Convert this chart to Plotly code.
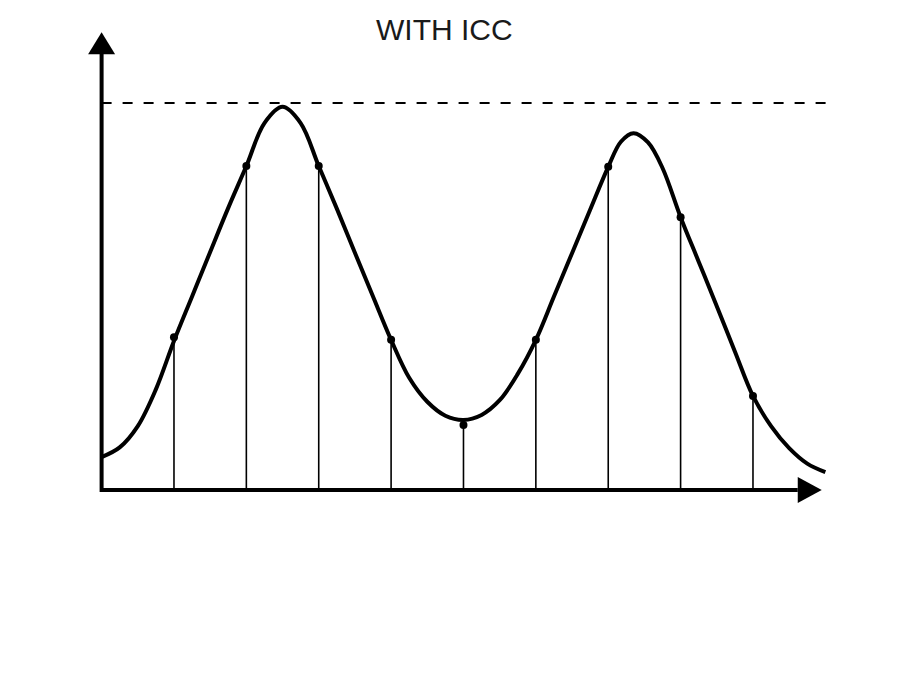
import plotly.graph_objects as go

# ---- data ----
# continuous signal (x in sample units, y in % of the dashed max level)
curve_x = [0.0, 0.25, 0.5, 0.75, 1.0, 1.25, 1.5, 1.75, 2.0, 2.25, 2.5, 2.75, 3.0, 3.25, 3.5,
           3.75, 4.0, 4.25, 4.5, 4.75, 5.0, 5.25, 5.5, 5.75, 6.0, 6.25, 6.5, 6.75, 7.0, 7.175,
           7.35, 7.55, 7.75, 8.0, 8.25, 8.5, 8.75, 9.0, 9.25, 9.5, 9.75, 10.0]
curve_y = [8.5, 11.0, 16.5, 26.0, 38.5, 50.0, 61.5, 72.9, 83.7, 94.8, 99.0, 94.8, 83.7, 72.7, 61.3,
           50.0, 38.8, 29.0, 22.8, 19.2, 18.1, 19.4, 23.2, 30.0, 38.8, 50.0, 61.2, 72.4, 83.5, 90.0,
           92.2, 89.8, 83.2, 70.5, 59.0, 47.5, 35.8, 24.3, 16.5, 10.8, 6.8, 4.6]

# sampled values
sample_x = [1, 2, 3, 4, 5, 6, 7, 8, 9]
sample_y = [39.5, 83.7, 83.7, 38.8, 16.8, 38.8, 83.5, 70.5, 24.3]

max_level = 100
title_text = "WITH ICC"

# ---- axis mapping (pixels per unit); page body has an 8px offset ----
OFF = 8
W, H = 900 - OFF, 675 - OFF
px_x = 72.375          # px per x unit
px_y = 3.87            # px per y unit
x0_px, y0_px = 101.6 - OFF, 490 - OFF
x_range = [-x0_px / px_x, (W - x0_px) / px_x]
y_range = [-(H - y0_px) / px_y, y0_px / px_y]

def dx(p):   # pixel length -> x data
    return p / px_x

def dy(p):   # pixel length -> y data
    return p / px_y

fig = go.Figure()

# stems
stem_x, stem_y = [], []
for xv, yv in zip(sample_x, sample_y):
    stem_x += [xv, xv, None]
    stem_y += [0, yv, None]
fig.add_trace(go.Scatter(x=stem_x, y=stem_y, mode="lines",
                         line=dict(color="black", width=1.6), hoverinfo="skip"))

# dashed max level
fig.add_trace(go.Scatter(x=[0, 10.04], y=[max_level, max_level], mode="lines",
                         line=dict(color="black", width=2, dash="10px,11px"), hoverinfo="skip"))

# curve
fig.add_trace(go.Scatter(x=curve_x, y=curve_y, mode="lines",
                         line=dict(color="black", width=4, shape="spline", smoothing=1.0)))

# sample dots
fig.add_trace(go.Scatter(x=sample_x, y=sample_y, mode="markers",
                         marker=dict(color="black", size=8)))

# axes with arrowheads
x_end = 9.95
y_end = 118.3
shapes = [
    dict(type="line", x0=0, x1=x_end - dx(24), y0=0, y1=0,
         line=dict(color="black", width=4)),
    dict(type="line", x0=0, x1=0, y0=-dy(2), y1=y_end - dy(21),
         line=dict(color="black", width=4)),
    dict(type="path",
         path=f"M {x_end - dx(24)} {dy(13)} L {x_end} 0 L {x_end - dx(24)} {-dy(13)} Z",
         fillcolor="black", line=dict(color="black", width=0)),
    dict(type="path",
         path=f"M {-dx(13.5)} {y_end - dy(22)} L 0 {y_end} L {dx(13.5)} {y_end - dy(22)} Z",
         fillcolor="black", line=dict(color="black", width=0)),
]

fig.update_layout(
    width=W, height=H,
    margin=dict(l=0, r=0, t=0, b=0),
    paper_bgcolor="white", plot_bgcolor="white",
    showlegend=False,
    xaxis=dict(range=x_range, visible=False, fixedrange=True),
    yaxis=dict(range=y_range, visible=False, fixedrange=True),
    shapes=shapes,
    annotations=[dict(text=title_text, x=(444.5 - OFF) / W, y=1 - (30 - OFF) / H,
                      xref="paper", yref="paper",
                      xanchor="center", yanchor="middle", showarrow=False,
                      font=dict(family="Liberation Sans, Arial, sans-serif", size=30,
                                color="#1a1a1a"))],
)

fig.write_html("out.html")
